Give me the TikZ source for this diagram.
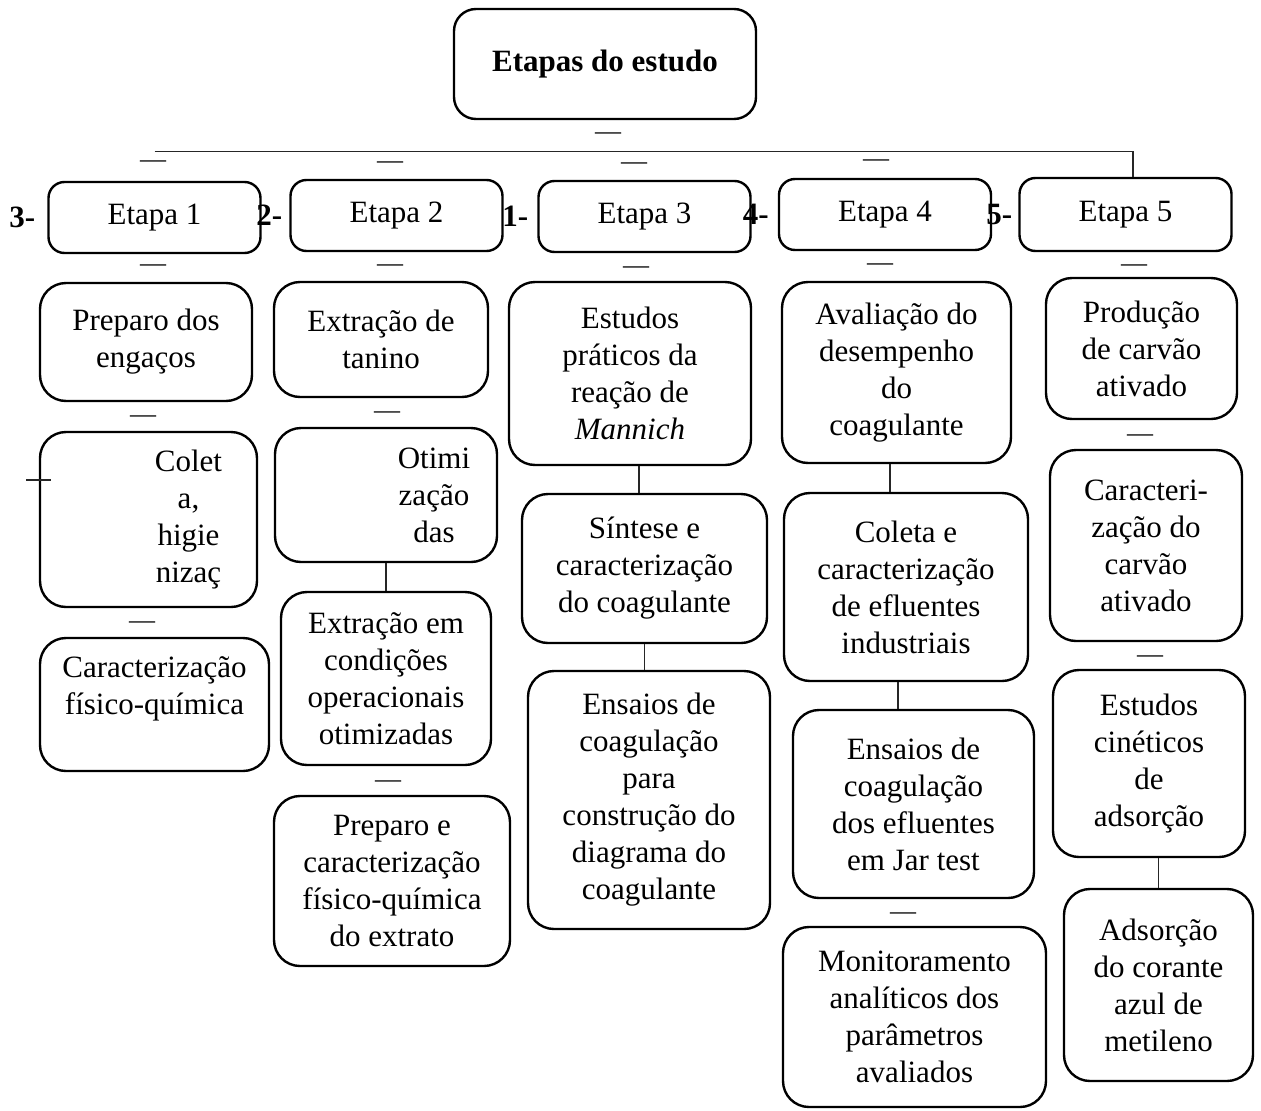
\documentclass[tikz,border=0pt]{standalone}
\usepackage{fontspec}
\setmainfont{Liberation Serif}
\usepackage{tikz}
\usetikzlibrary{positioning}
\tikzstyle{stage} = [draw=black, line width=2.4pt, rounded corners=26pt, align=center, inner sep=0pt, font=\fontsize{31}{37}\selectfont]
\tikzstyle{etapa} = [stage, rounded corners=16pt, minimum width=212pt, minimum height=71pt]
\tikzstyle{numtext} = [draw=none, fill=none, inner sep=0pt, font=\bfseries\fontsize{31}{37}\selectfont]
\tikzstyle{gap} = [draw=none, fill=none, inner sep=0pt, font=\fontsize{26}{26}\selectfont]
\tikzstyle{link} = [draw=black!85, line width=1.3pt]

\begin{document}
\begin{tikzpicture}[x=1pt, y=-1pt]
\useasboundingbox (0,0) rectangle (1261,1111);

% title and stages =============================
\node[stage, rounded corners=22pt, font=\bfseries\fontsize{31}{37}\selectfont, minimum width=302pt, minimum height=110pt] (title) at (605,64) {Etapas do estudo};
\node[etapa] (e1) at (154.5,217.5) {Etapa 1};
\node[etapa] (e2) at (396.5,215.5) {Etapa 2};
\node[etapa] (e3) at (644.5,216.5) {Etapa 3};
\node[etapa] (e4) at (885,214.5) {Etapa 4};
\node[etapa, minimum height=73pt] (e5) at (1125.5,214.5) {Etapa 5};

% column 1
\node[stage, minimum width=212pt, minimum height=118pt] (c1a) at (146,342) {Preparo dos\\engaços};
\node[stage, minimum width=217pt, minimum height=175pt] (c1b) at (148.5,519.5) {\hspace*{80pt}Colet\\\hspace*{80pt}a,\\\hspace*{80pt}higie\\\hspace*{80pt}nizaç};
\node[stage, minimum width=229pt, minimum height=133pt] (c1c) at (154.5,704.5) {Caracterização\\físico-química\\~};

% column 2
\node[stage, minimum width=214pt, minimum height=115pt] (c2a) at (381,339.5) {Extração de\\tanino};
\node[stage, minimum width=222pt, minimum height=134pt] (c2b) at (386,495) {\hspace*{96pt}Otimi\\\hspace*{96pt}zação\\\hspace*{96pt}das};
\node[stage, minimum width=210pt, minimum height=173pt] (c2c) at (386,678.5) {Extração em\\condições\\operacionais\\otimizadas};
\node[stage, minimum width=236pt, minimum height=170pt] (c2d) at (392,881) {Preparo e\\caracterização\\físico-química\\do extrato};

% column 3
\node[stage, minimum width=242pt, minimum height=183pt] (c3a) at (630,373.5) {Estudos\\práticos da\\reação de\\\textit{Mannich}};
\node[stage, minimum width=245pt, minimum height=149pt] (c3b) at (644.5,568.5) {Síntese e\\caracterização\\do coagulante};
\node[stage, minimum width=242pt, minimum height=258pt] (c3c) at (649,800) {Ensaios de\\coagulação\\para\\construção do\\diagrama do\\coagulante};

% column 4
\node[stage, minimum width=229pt, minimum height=181pt] (c4a) at (896.5,372.5) {Avaliação do\\desempenho\\do\\coagulante};
\node[stage, minimum width=244pt, minimum height=188pt] (c4b) at (906,587) {Coleta e\\caracterização\\de efluentes\\industriais};
\node[stage, minimum width=241pt, minimum height=188pt] (c4c) at (913.5,804) {Ensaios de\\coagulação\\dos efluentes\\em Jar test};
\node[stage, minimum width=263pt, minimum height=180pt] (c4d) at (914.5,1017) {Monitoramento\\analíticos dos\\parâmetros\\avaliados};

% column 5
\node[stage, minimum width=191pt, minimum height=141pt] (c5a) at (1141.5,348.5) {Produção\\de carvão\\ativado};
\node[stage, minimum width=192pt, minimum height=191pt] (c5b) at (1146,545.5) {Caracteri-\\zação do\\carvão\\ativado};
\node[stage, minimum width=192pt, minimum height=187pt] (c5c) at (1149,763.5) {Estudos\\cinéticos\\de\\adsorção};
\node[stage, minimum width=189pt, minimum height=192pt] (c5d) at (1158.5,985) {Adsorção\\do corante\\azul de\\metileno};

% edges
\path[link] ([yshift=29pt]e1.north) -| ([xshift=7.5pt]e5.north);
\path[link] (c2b.south) -- (c2b.south |- c2c.north);
\path[link] ([xshift=9pt]c3a.south) -- ([xshift=9pt]c3a.south |- c3b.north);
\path[link] (c3b.south) -- (c3b.south |- c3c.north);
\path[link] ([xshift=-6.5pt]c4a.south) -- ([xshift=-6.5pt]c4a.south |- c4b.north);
\path[link] ([xshift=-8pt]c4b.south) -- ([xshift=-8pt]c4b.south |- c4c.north);
\path[link] (c5c.south -| c5d.north) -- (c5d.north);
\path[link] ([shift={(-12.5pt,39.5pt)}]c1b.west) -- ++(25,0);

% stray dashes
\foreach \x/\y [count=\n] in {608/136, 153/164, 390/165, 634/166, 876/163,
    153/268, 390/268, 636/270, 880/267, 1134/268,
    143/419, 142/625, 387/415, 388/784, 903/916, 1140/438, 1150/659}
  \node[gap] (gap\n) at (\x,\y) {—};

% step numbers
\node[numtext, left=12pt of e1] (n1) {3-};
\node[numtext, left=7pt of e2] (n2) {2-};
\node[numtext, left=9pt of e3] (n3) {1-};
\node[numtext, left=9pt of e4] (n4) {4-};
\node[numtext, left=6pt of e5] (n5) {5-};

\end{tikzpicture}
\end{document}
